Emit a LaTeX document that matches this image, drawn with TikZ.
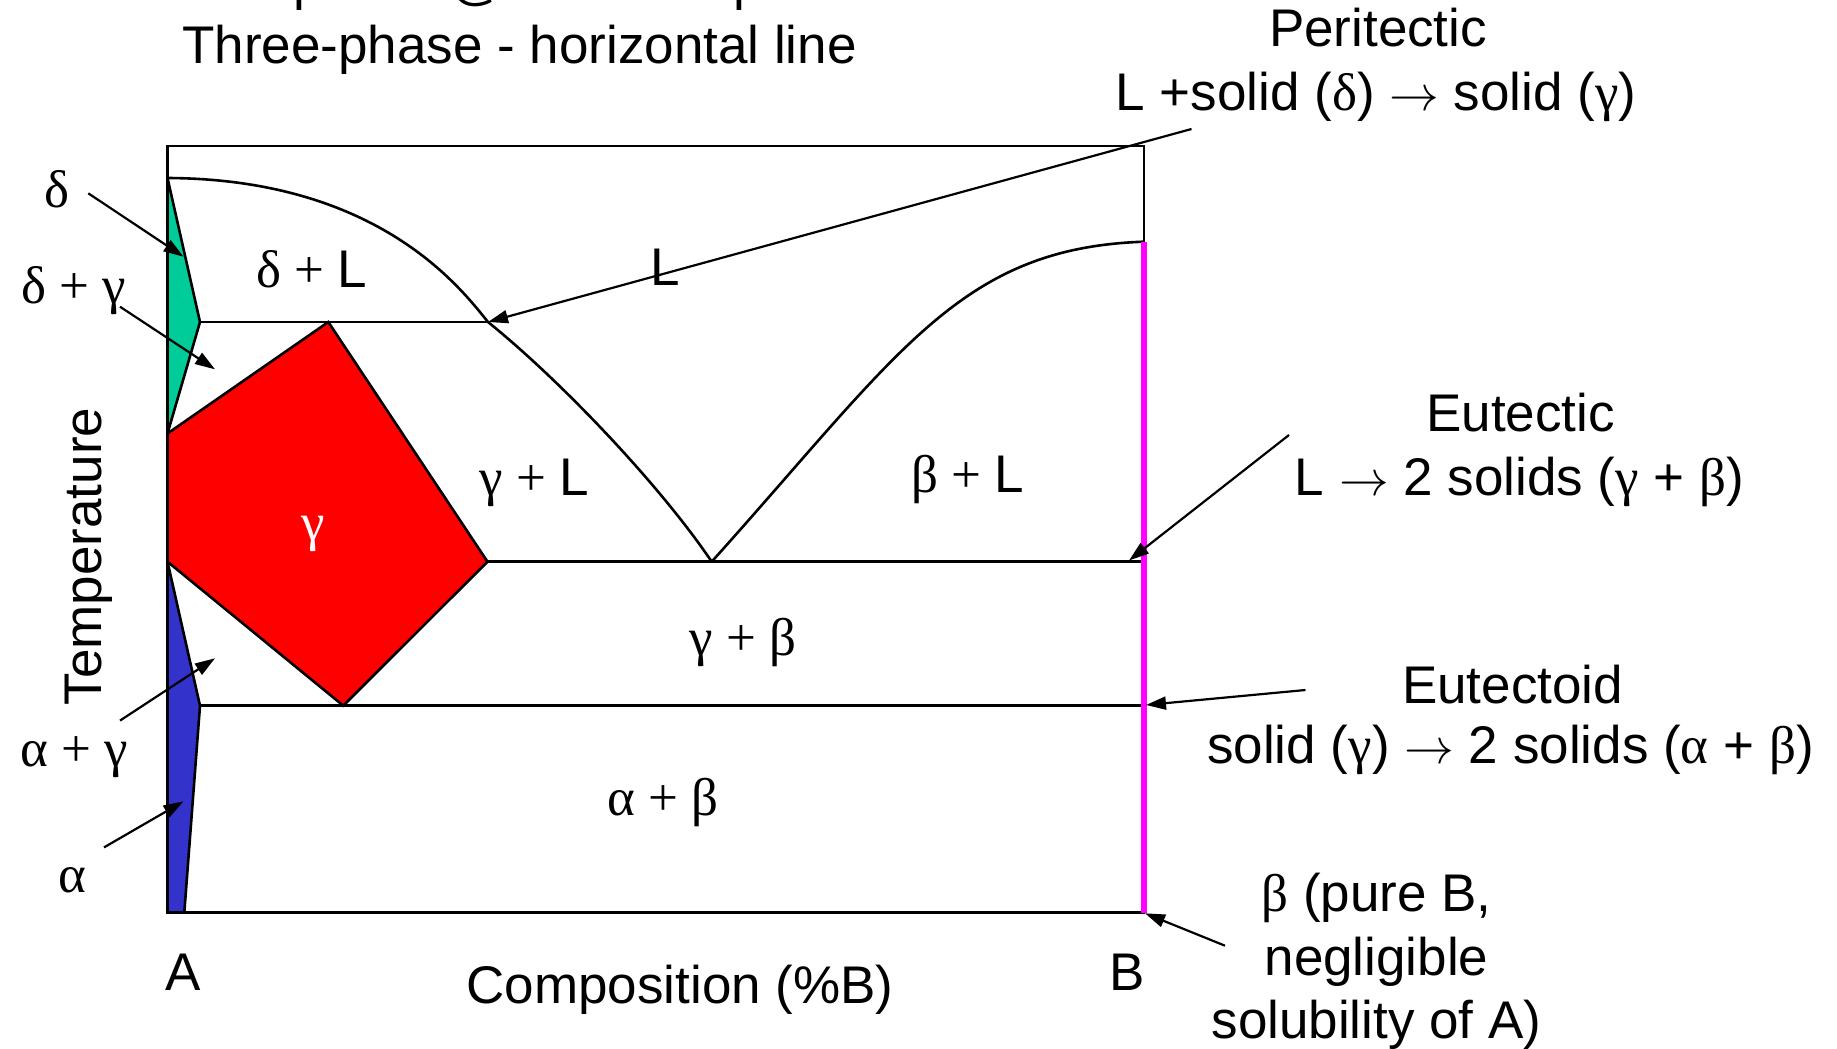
\documentclass[tikz,border=0pt]{standalone}
\usepackage{fontspec}
\setmainfont{Liberation Sans}
\newfontfamily\gr{Liberation Serif}
\usetikzlibrary{arrows.meta}
\definecolor{dgreen}{RGB}{0,204,153}
\definecolor{dblue}{RGB}{51,51,204}
\definecolor{dred}{RGB}{255,0,0}
\definecolor{dmag}{RGB}{255,0,255}
\newcommand\myarr{${\rightarrow}$}
\begin{document}
\begin{tikzpicture}[x=0.5pt,y=-0.5pt,
  lbl/.style={font=\fontsize{26.5}{31}\selectfont, inner sep=0pt, anchor=base},
  ln/.style={line width=1.3pt, line join=miter},
  arr/.style={line width=1.1pt, -{Triangle[length=10pt,width=6.5pt]}},
]
\useasboundingbox (0,0) rectangle (1837,1049);
% key points
\coordinate (TL) at (167.5,146);
\coordinate (TR) at (1144,146);
\coordinate (BL) at (167.5,912.6);
\coordinate (BR) at (1144,912.6);
\coordinate (dTop) at (167.5,178);
\coordinate (dTip) at (200,322);
\coordinate (gTopL) at (167.5,433.5);
\coordinate (gTop) at (328.3,322);
\coordinate (gRight) at (487.5,561.7);
\coordinate (gBot) at (343.3,705.7);
\coordinate (gBotL) at (167.5,561.7);
\coordinate (aTip) at (200,705.7);
\coordinate (aBot) at (184.3,912.6);
\coordinate (P) at (488,322);
\coordinate (E) at (711.7,561.7);
\coordinate (Bliq) at (1144,241.7);
\coordinate (Eend) at (1144,561.7);
\coordinate (EDend) at (1144,705.7);
% filled phase fields
\filldraw[ln, fill=dgreen] (dTop) -- (dTip) -- (gTopL) -- cycle;
\filldraw[ln, fill=dred] (gTopL) -- (gTop) -- (gRight) -- (gBot) -- (gBotL) -- cycle;
\filldraw[ln, fill=dblue] (gBotL) -- (aTip) -- (aBot) -- (BL) -- cycle;
% frame
\draw[ln] (TL) rectangle (BR);
% horizontal invariant lines
\draw[ln] (dTip) -- (P);
\draw[ln] (gRight) -- (Eend);
\draw[ln] (aTip) -- (EDend);
% liquidus curves
\draw[ln] (dTop) .. controls (380,179) and (462,290) .. (P);
\draw[ln] (P) .. controls (560,380) and (660,485) .. (E);
\draw[ln] (E) .. controls (900,352) and (960,248) .. (Bliq);
% beta line
\draw[line width=3.3pt, dmag] (Bliq) -- (BR);
% clipped top line
\begin{scope}
\clip (0,0) rectangle (1837,1049);
\node[lbl] (title1) at (508,-1) {Invariant points @ constant pressure};
\end{scope}
\node[lbl] (title2) at (519.5,63) {Three-phase - horizontal line};
% field labels
\node[lbl] (lDL) at (312,287) {{\gr δ + }L};
\node[lbl] (lL) at (665,285) {L};
\node[lbl] (lGL) at (534,495) {{\gr γ + }L};
\node[lbl] (lBL) at (968,492) {{\gr β + }L};
\node[lbl, text=white] (lG) at (313,540) {\gr γ};
\node[lbl] (lGB) at (743,655) {\gr γ + β};
\node[lbl] (lAB) at (663,815) {\gr α + β};
% left labels
\node[lbl] (sD) at (57,207) {\gr δ};
\node[lbl] (sDG) at (74,303) {\gr δ + γ};
\node[lbl] (sAG) at (74,766) {\gr α + γ};
\node[lbl] (sA) at (72,892) {\gr α};
\node[lbl, rotate=90] (temp) at (101.5,556.5) {Temperature};
% axis labels
\node[lbl] (xA) at (183,990) {A};
\node[lbl] (xB) at (1127,990) {B};
\node[lbl] (comp) at (680,1003) {Composition (\%B)};
% right annotations
\node[lbl] (per1) at (1378,46.7) {Peritectic};
\node[lbl] (per2) at (1376,110) {L +solid ({\gr δ}) \myarr{} solid ({\gr γ})};
\node[lbl] (eut1) at (1520.5,431.7) {Eutectic};
\node[lbl] (eut2) at (1519.5,495) {L \myarr{} 2 solids ({\gr γ} + {\gr β})};
\node[lbl] (eud1) at (1512.5,703.3) {Eutectoid};
\node[lbl] (eud2) at (1510.5,763.3) {solid ({\gr γ}) \myarr{} 2 solids ({\gr α} + {\gr β})};
\node[lbl] (bet1) at (1376.5,911.7) {{\gr β} (pure B,};
\node[lbl] (bet2) at (1376.5,975) {negligible};
\node[lbl] (bet3) at (1376.5,1038.3) {solubility of A)};
% arrows
\coordinate (a1s) at (88.3,193.3);   \coordinate (a1e) at (183.5,256.7);
\coordinate (a2s) at (120,306.7);    \coordinate (a2e) at (215,369.3);
\coordinate (a3s) at (120,720.6);    \coordinate (a3e) at (215,658.3);
\coordinate (a4s) at (104,847.4);    \coordinate (a4e) at (183.5,801.4);
\coordinate (a5s) at (1191.5,129);   \coordinate (a5e) at (P);
\coordinate (a6s) at (1289,435);     \coordinate (a6e) at (1129,560.5);
\coordinate (a7s) at (1305.5,690);   \coordinate (a7e) at (1146,705);
\coordinate (a8s) at (1225,945.7);   \coordinate (a8e) at (1145,913.3);
\draw[arr] (a1s) -- (a1e);
\draw[arr] (a2s) -- (a2e);
\draw[arr] (a3s) -- (a3e);
\draw[arr] (a4s) -- (a4e);
\draw[arr] (a5s) -- (a5e);
\draw[arr] (a6s) -- (a6e);
\draw[arr] (a7s) -- (a7e);
\draw[arr] (a8s) -- (a8e);
\end{tikzpicture}
\end{document}
